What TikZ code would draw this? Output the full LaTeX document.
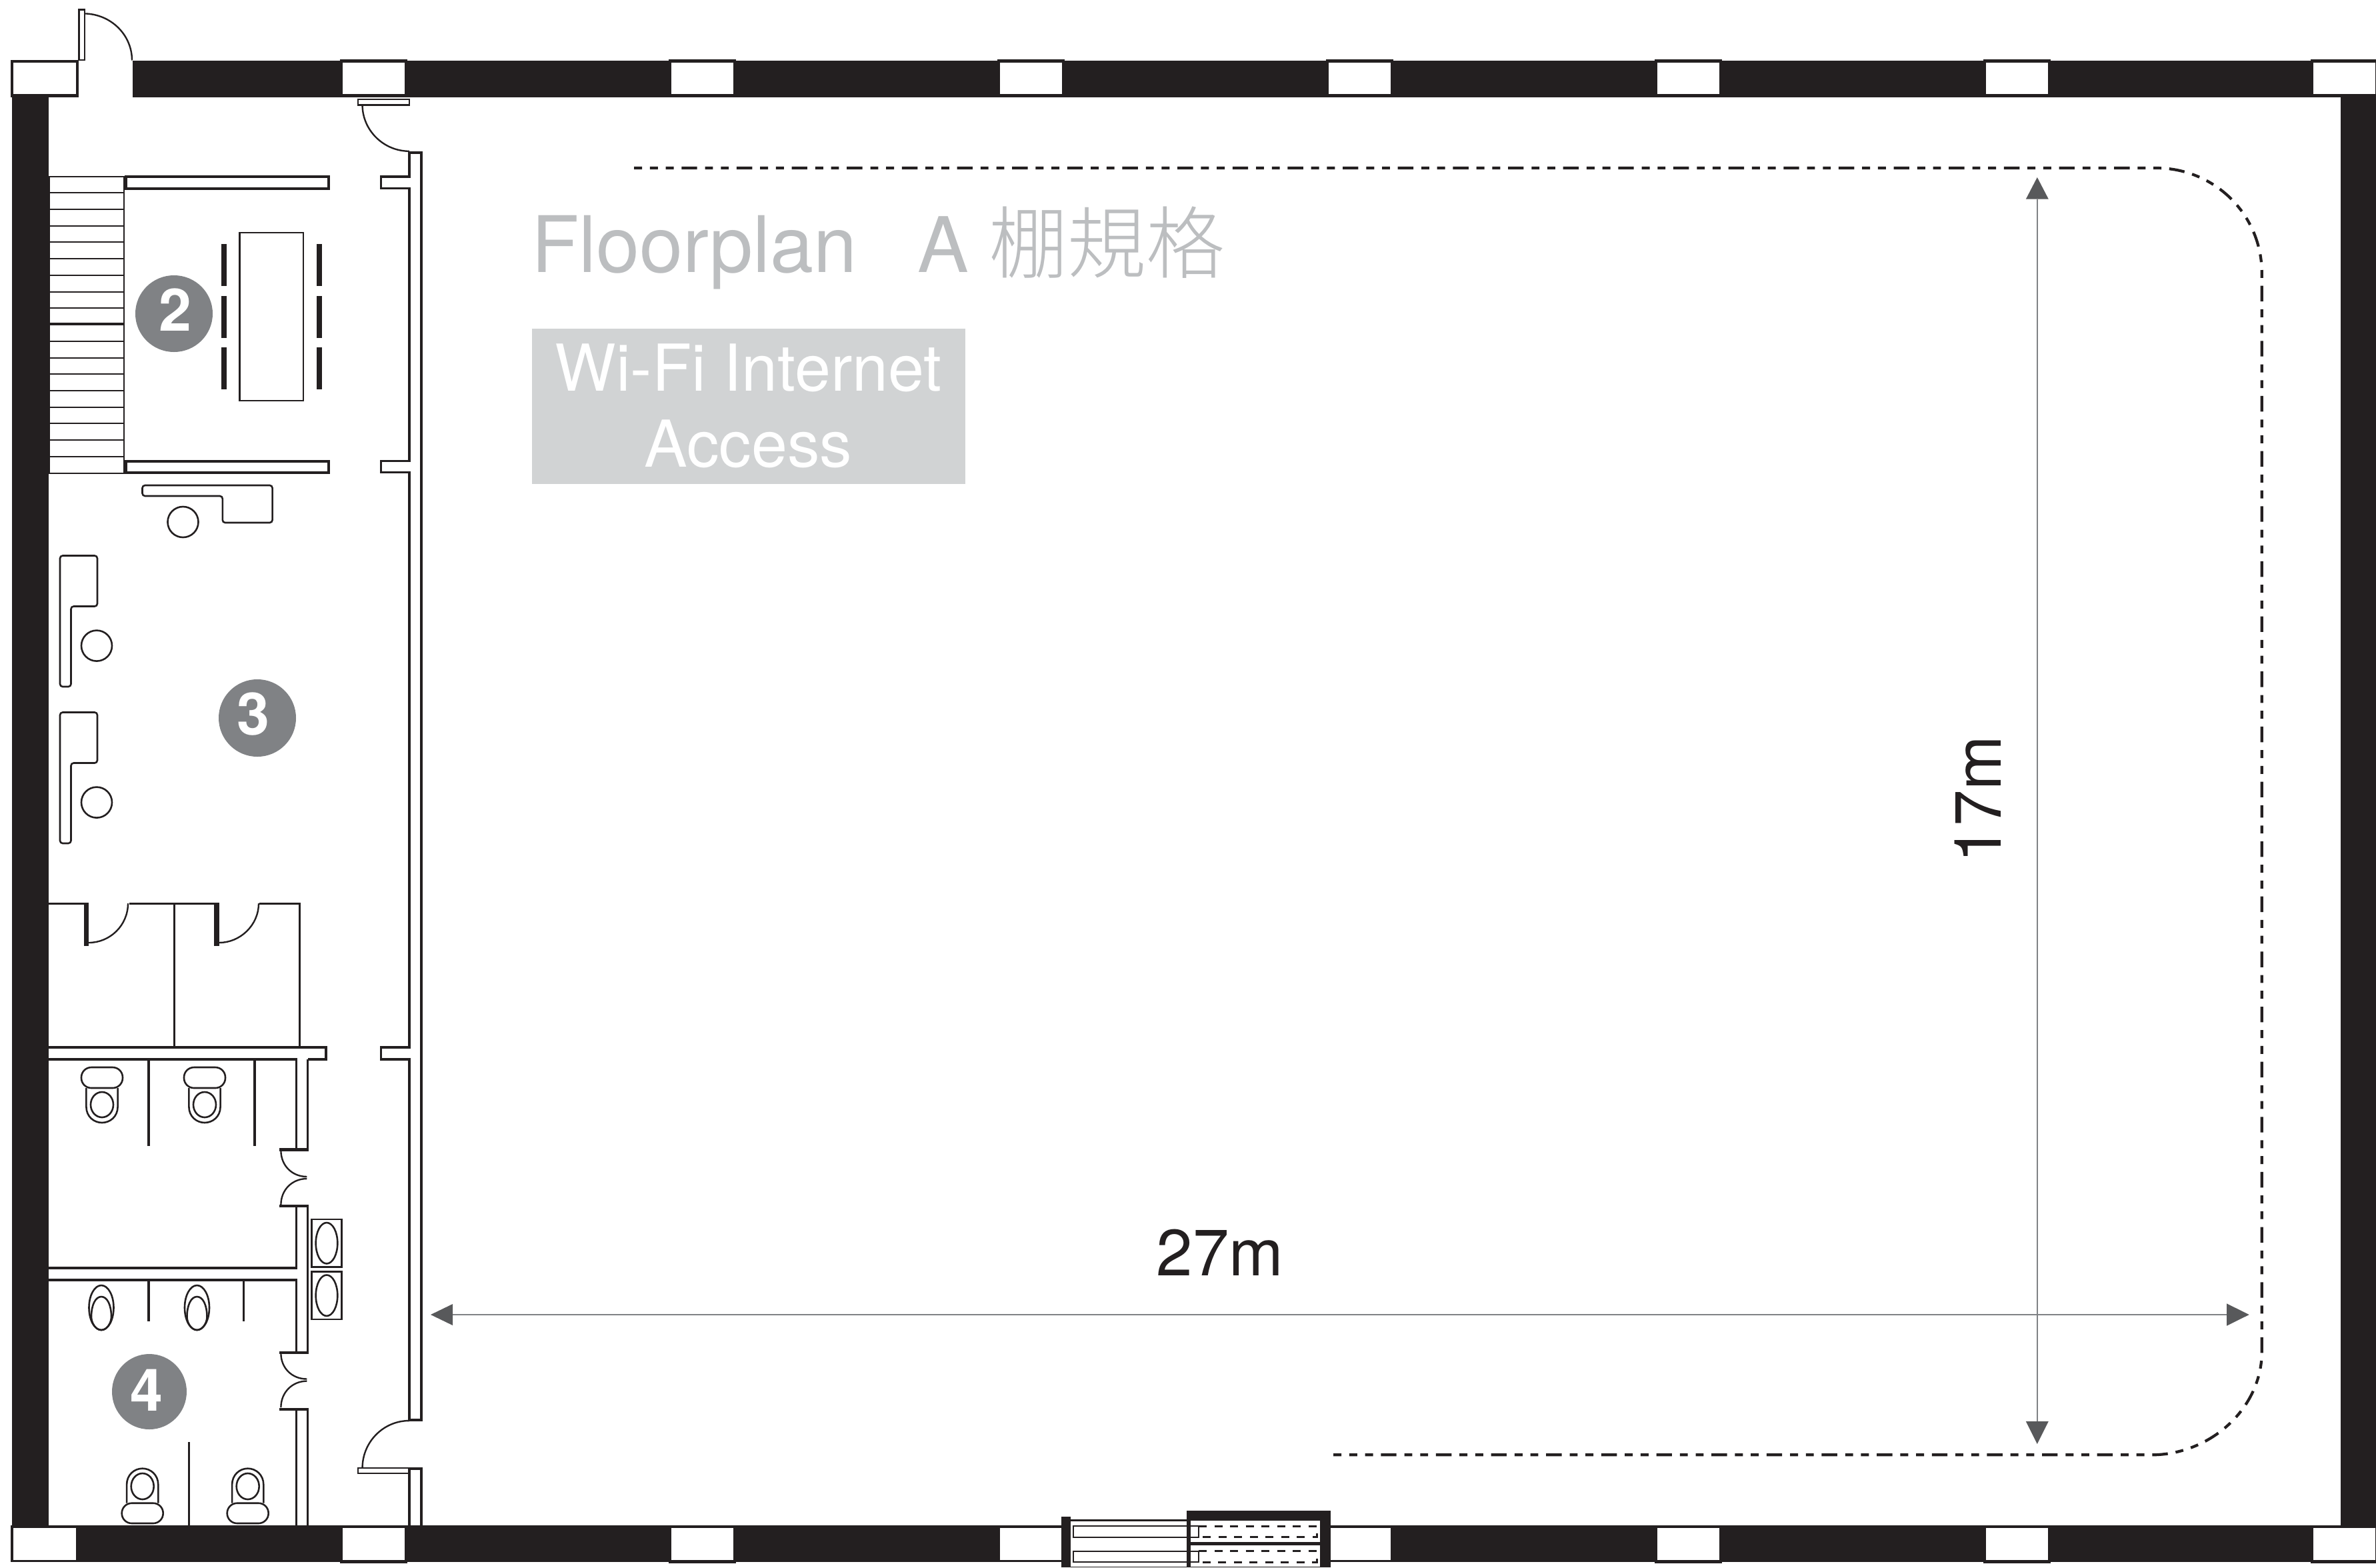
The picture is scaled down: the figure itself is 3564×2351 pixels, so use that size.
\documentclass[tikz,border=0pt]{standalone}
\usepackage{fontspec}
\setmainfont{TeX Gyre Heros}
\newfontfamily\cjk{Noto Sans CJK TC Light}
\definecolor{wallk}{HTML}{231F20}
\definecolor{badge}{HTML}{808285}
\definecolor{titlegr}{HTML}{BCBEC0}
\definecolor{boxgr}{HTML}{D1D3D4}
\definecolor{dimline}{HTML}{808285}
\definecolor{dimtip}{HTML}{58595B}
\tikzset{
  wallfill/.style={fill=wallk,draw=none},
  ln/.style={draw=wallk,line width=3.5pt},
  thin/.style={draw=wallk,line width=2.6pt},
  hair/.style={draw=wallk,line width=2.4pt},
  bar/.style={draw=wallk,line width=3.8pt,fill=white},
  windowbox/.style={fill=white,draw=none},
  badgec/.style={fill=badge,draw=none},
  badget/.style={text=white,font=\fontsize{88}{88}\selectfont\bfseries,inner sep=0pt,anchor=center},
  dimarrow/.style={draw=dimline,line width=1.6pt},
  tipf/.style={fill=dimtip,draw=none},
  outline/.style={draw=wallk,line width=4.2pt,dash pattern=on 23.4pt off 11.9pt on 11.9pt off 11.8pt on 11.9pt off 11.75pt,dash phase=11.4pt},
  dashd/.style={draw=wallk,line width=3pt,dash pattern=on 12pt off 11.5pt},
}
\begin{document}
\begin{tikzpicture}[x=1pt,y=-1pt]
\useasboundingbox (0,0) rectangle (3564,2351);
\fill[white] (0,0) rectangle (3564,2351);
% ---- outer walls
\fill[wallfill] (199,90.5) rectangle (3564,146);
\fill[wallfill] (16,2288) rectangle (1592,2343);
\fill[wallfill] (1996,2288) rectangle (3564,2343);
\fill[wallfill] (17.5,140) rectangle (72.5,2290);
\fill[wallfill] (3511,140) rectangle (3564,2290);
% NW corner column
\fill[wallfill] (16,90) rectangle (118,146);
\fill[windowbox] (20,94) rectangle (114,141);
% SW corner column
\fill[windowbox] (20,2292) rectangle (114,2340);
% top columns
\foreach \cx in {509.5,1002.5,1495.5,1988.5,2481.5,2974.5}{
  \fill[wallfill] (\cx,88.5) rectangle ({\cx+101},146);
  \fill[windowbox] ({\cx+4},93.5) rectangle ({\cx+97},141);
}
\fill[wallfill] (3466,88.5) rectangle (3564,146);
\fill[windowbox] (3470,93.5) rectangle (3563,141);
% bottom columns
\foreach \cx in {509.5,1002.5,2481.5,2974.5}{
  \fill[wallfill] (\cx,2288) rectangle ({\cx+101},2345);
  \fill[windowbox] ({\cx+4},2292) rectangle ({\cx+97},2340);
}
\fill[wallfill] (3466,2288) rectangle (3564,2345);
\fill[windowbox] (3470,2292) rectangle (3563,2340);
% ---- loading door, bottom
\fill[windowbox] (1499.5,2292) rectangle (1592,2340);
\fill[windowbox] (1996,2292) rectangle (2085.5,2340);
\fill[wallfill] (1592,2275) rectangle (1606,2351);
\fill[wallfill] (1780,2266) rectangle (1996,2281);
\fill[wallfill] (1780,2266) rectangle (1786,2351);
\fill[wallfill] (1980,2266) rectangle (1996,2351);
\fill[wallfill] (1786,2312.7) rectangle (1980,2317.7);
\fill[wallfill] (1606,2278.5) rectangle (1780,2281.5);
\fill[wallfill] (1606,2349.5) rectangle (1780,2351);
\fill[wallfill] (1786,2349.8) rectangle (1980,2351);
\draw[hair] (1610,2289) rectangle (1798,2305.7);
\draw[hair] (1610,2326.7) rectangle (1798,2343);
\draw[dashd] (1798,2289) -- (1975,2289) -- (1975,2305.7) -- (1798,2305.7);
\draw[dashd] (1798,2326.7) -- (1975,2326.7) -- (1975,2343) -- (1798,2343);
% ---- NW entry door
\draw[draw=wallk,line width=2.4pt,fill=white] (118.4,14.5) rectangle (126.7,90);
\draw[hair] (126.7,20.4) .. controls (166,21) and (198,52) .. (198,90.5);
% ---- inner door top
\draw[draw=wallk,line width=2.4pt,fill=white] (537,149) rectangle (614,157.5);
\draw[hair] (543.6,157.5) .. controls (543.6,195) and (575,226.8) .. (614,226.8);
% ---- partition wall
\draw[ln] (632,229) -- (614,229) -- (614,265) -- (571.6,265) -- (571.6,282.6) -- (614,282.6)
  -- (614,691.7) -- (571.6,691.7) -- (571.6,708.6) -- (614,708.6)
  -- (614,1571) -- (571.6,1571) -- (571.6,1589) -- (614,1589) -- (614,2130) -- (632,2130) -- cycle;
% lower door + stub
\draw[hair] (614,2131) .. controls (575,2131) and (543.6,2163) .. (543.6,2202);
\draw[draw=wallk,line width=2.4pt,fill=white] (537,2202) rectangle (614,2210);
\draw[ln] (614,2288) -- (614,2203) -- (632,2203) -- (632,2288);
% ---- stairs
\draw[draw=wallk,line width=2pt] (73.5,264.6) rectangle (186.4,709.6);
\foreach \i in {1,...,17}{
  \draw[draw=wallk,line width=2pt] (73.5,{264.6+24.72*\i}) -- (186.4,{264.6+24.72*\i});
}
\draw[ln] (73.5,486) -- (186.4,486);
% ---- bars
\draw[bar] (189,265) rectangle (492.7,282.6);
\draw[bar] (189,691.7) rectangle (492.7,708.6);
% ---- table + chairs
\draw[draw=wallk,line width=2.6pt] (359.5,349) rectangle (455,601);
\foreach \cy in {366,444,521}{
  \fill[wallfill] (332,\cy) rectangle (340,{\cy+63});
  \fill[wallfill] (475,\cy) rectangle (483,{\cy+63});
}
% ---- desks
\draw[thin,rounded corners=4pt] (213.5,728) -- (408.6,728) -- (408.6,784) -- (333.8,784) -- (333.8,744) -- (213.5,744) -- cycle;
\draw[thin] (274.5,783) ellipse [x radius=23,y radius=23];
\foreach \dy in {0,235}{
  \draw[thin,rounded corners=4pt] (90,{833.5+\dy}) -- (146,{833.5+\dy}) -- (146,{909.5+\dy}) -- (106.5,{909.5+\dy}) -- (106.5,{1030+\dy}) -- (90,{1030+\dy}) -- cycle;
  \draw[thin] (145,{968.6+\dy}) ellipse [x radius=23,y radius=23];
}
% ---- WC upper block
\draw[ln] (72.5,1355.4) -- (126,1355.4);
\draw[ln] (193.7,1355.4) -- (321.4,1355.4);
\draw[ln] (389.4,1355.4) -- (449.6,1355.4) -- (449.6,1571);
\draw[ln] (261.7,1355.4) -- (261.7,1571);
\fill[wallfill] (126,1354) rectangle (133,1419);
\fill[wallfill] (321.4,1354) rectangle (328.7,1419);
\draw[hair] (133,1414) .. controls (165,1414) and (192,1388) .. (192,1355);
\draw[hair] (328.7,1414) .. controls (360,1414) and (388,1388) .. (388,1355);
% bar + lower partitions
\draw[ln] (72.5,1571) -- (489,1571) -- (489,1589) -- (461.5,1589);
\draw[ln] (461.5,1589) -- (461.5,1724);
\draw[ln] (444.5,1724) -- (444.5,1589) -- (72.5,1589);
\fill[wallfill] (418.6,1721.5) rectangle (463,1726.5);
\draw[hair] (421.4,1726) .. controls (421.4,1748) and (438,1765) .. (460.4,1765);
\draw[hair] (460.4,1768) .. controls (438,1768) and (421.4,1785) .. (421.4,1807);
\fill[wallfill] (418.6,1807) rectangle (463,1811);
\draw[ln] (461.5,1810) -- (461.5,2028);
\draw[ln] (444.5,1810) -- (444.5,1902) -- (72.5,1902);
\draw[ln] (72.5,1920) -- (444.5,1920) -- (444.5,2028);
\fill[wallfill] (418.6,2027) rectangle (463,2030.5);
\draw[hair] (421.4,2030) .. controls (421.4,2052) and (438,2068.5) .. (460.4,2068.5);
\draw[hair] (460.4,2071.6) .. controls (438,2071.6) and (421.4,2089) .. (421.4,2111);
\fill[wallfill] (418.6,2112) rectangle (463,2115.5);
\draw[ln] (444.5,2113) -- (444.5,2288);
\draw[ln] (461.5,2113) -- (461.5,2288);
% stall partitions
\draw[ln] (223,1589) -- (223,1719);
\draw[ln] (382,1589) -- (382,1719);
\draw[ln] (223,1921) -- (223,1982);
\draw[ln] (365.4,1921) -- (365.4,1982);
\draw[ln] (283.7,2163.4) -- (283.7,2288);
% toilets top
\foreach \tx in {153,307}{
  \draw[thin] ({\tx-23.6},1632) -- ({\tx-23.6},1660) .. controls ({\tx-23.6},1675) and ({\tx-12},1684) .. (\tx,1684) .. controls ({\tx+12},1684) and ({\tx+23.6},1675) .. ({\tx+23.6},1660) -- ({\tx+23.6},1632);
  \draw[thin,fill=white,rounded corners=15pt] ({\tx-31},1601) rectangle ({\tx+31},1632);
  \draw[thin] (\tx,1657) ellipse [x radius=17,y radius=19];
}
% toilets bottom
\foreach \tx in {213.7,371.7}{
  \draw[thin] ({\tx-23.6},2254.7) -- ({\tx-23.6},2227) .. controls ({\tx-23.6},2212) and ({\tx-12},2202.7) .. (\tx,2202.7) .. controls ({\tx+12},2202.7) and ({\tx+23.6},2212) .. ({\tx+23.6},2227) -- ({\tx+23.6},2254.7);
  \draw[thin,fill=white,rounded corners=15pt] ({\tx-31},2254.7) rectangle ({\tx+31},2285);
  \draw[thin] (\tx,2229.5) ellipse [x radius=17,y radius=19.5];
}
% urinals
\foreach \ux in {152,295.5}{
  \draw[thin] (\ux,1961.5) ellipse [x radius=18.5,y radius=33.5];
  \draw[thin] ({\ux-15},1975) .. controls ({\ux-15},1958) and ({\ux-9},1945) .. (\ux,1945) .. controls ({\ux+9},1945) and ({\ux+15},1958) .. ({\ux+15},1975) .. controls ({\ux+15},1985) and ({\ux+8},1995) .. (\ux,1995) .. controls ({\ux-8},1995) and ({\ux-15},1985) .. ({\ux-15},1975) -- cycle;
}
% sinks
\foreach \sy in {1829,1907.5}{
  \draw[thin] (467.3,\sy) rectangle (512.7,{\sy+71.5});
  \draw[thin] (490,{\sy+35.7}) ellipse [x radius=16.3,y radius=30.7];
}
% ---- outline dashed
\draw[outline] (951,252) -- (3234,252) .. controls (3322,252) and (3392.8,322) .. (3392.8,410) -- (3392.8,1217);
\draw[outline] (2000,2182.3) -- (3227,2182.3) .. controls (3315,2182.3) and (3392.8,2113) .. (3392.8,2027) -- (3392.8,1217);
% ---- dimension arrows
\coordinate (hL) at (679,1972);
\coordinate (hR) at (3340,1972);
\coordinate (vT) at (3055.8,298.7);
\coordinate (vB) at (3055.8,2132);
\draw[dimarrow] (hL) -- (hR);
\draw[dimarrow] (vT) -- (vB);
\fill[tipf] (646,1972) -- (679,1956) -- (679,1988) -- cycle;
\fill[tipf] (3373.7,1972) -- (3340,1955.3) -- (3340,1988.7) -- cycle;
\fill[tipf] (3055.8,266) -- (3072.8,298.7) -- (3038.8,298.7) -- cycle;
\fill[tipf] (3055.8,2166) -- (3072.8,2132) -- (3038.8,2132) -- cycle;
% ---- badges
\fill[badgec] (261,470.5) ellipse [x radius=58,y radius=57.5];
\node[badget] (b2) at (263,465) {2};
\fill[badgec] (386,1077) ellipse [x radius=58,y radius=58];
\node[badget] (b3) at (380,1071) {3};
\fill[badgec] (224,2087.5) ellipse [x radius=56,y radius=56.5];
\node[badget] (b4) at (220,2085) {4};
% ---- texts
\node[anchor=base west,inner sep=0pt,text=titlegr,font=\fontsize{117}{117}\selectfont] (t1) at (797,408) {Floorplan};
\node[anchor=base west,inner sep=0pt,text=titlegr,font=\fontsize{115}{115}\selectfont] (t2) at (1376,408) {A};
\node[anchor=base west,inner sep=0pt,text=titlegr,font=\fontsize{118}{118}\selectfont\cjk] (t3) at (1483,408) {棚規格};
\fill[boxgr] (798,493) rectangle (1448,726);
\node[anchor=base,inner sep=0pt,text=white,font=\fontsize{97}{97}\selectfont] (w1) at (1122.5,586) {Wi-Fi Internet};
\node[anchor=base,inner sep=0pt,text=white,font=\fontsize{97}{97}\selectfont] (w2) at (1122.5,700.7) {Access};
\node[anchor=base,inner sep=0pt,text=wallk,font=\fontsize{98}{98}\selectfont] (l27) at (1830,1913.5) {27m};
\node[anchor=base,inner sep=0pt,text=wallk,font=\fontsize{98}{98}\selectfont,rotate=90] (l17) at (3001,1199) {17m};
\end{tikzpicture}
\end{document}
